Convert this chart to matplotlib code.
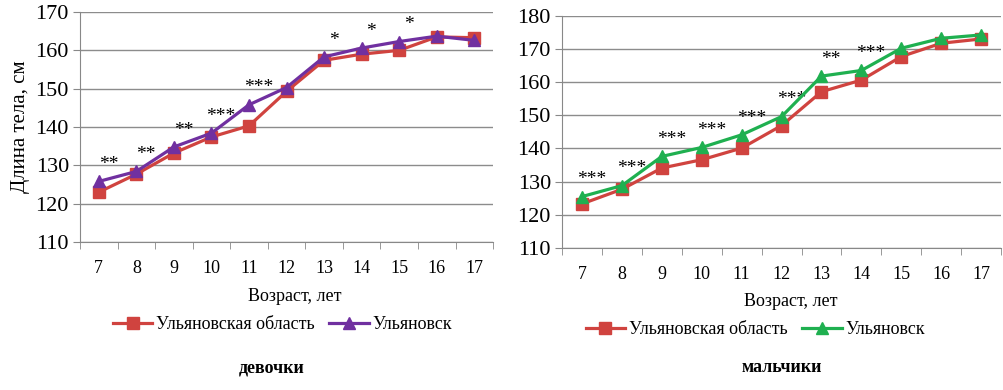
import matplotlib
matplotlib.use("Agg")
import matplotlib.pyplot as plt
from matplotlib.ticker import FixedLocator

plt.rcParams["font.family"] = ["Liberation Serif", "DejaVu Serif"]

# Data
ages = [7, 8, 9, 10, 11, 12, 13, 14, 15, 16, 17]

girls_region = [123.0, 127.7, 133.2, 137.4, 140.3, 149.3, 157.4, 159.0, 160.0, 163.5, 163.3]
girls_city = [125.8, 128.4, 134.8, 138.4, 145.8, 150.3, 158.3, 160.6, 162.3, 163.7, 162.6]
girls_sig = ["**", "**", "**", "***", "***", "", "*", "*", "*", "", ""]

boys_region = [123.3, 127.7, 134.1, 136.6, 140.1, 146.9, 157.1, 160.6, 167.7, 171.7, 173.0]
boys_city = [125.5, 128.8, 137.6, 140.3, 144.1, 149.6, 161.8, 163.5, 170.2, 173.2, 174.2]
boys_sig = ["***", "***", "***", "***", "***", "***", "**", "***", "", "", ""]

region_label = "Ульяновская область"
city_label = "Ульяновск"
red = "#D0433F"
purple = "#7030A0"
green = "#1FB050"

fig = plt.figure(figsize=(10.04, 3.90), dpi=100)
ax1 = fig.add_axes([0.0797, 0.3795, 0.4114, 0.5897])
ax2 = fig.add_axes([0.5598, 0.3641, 0.4373, 0.5956])


def draw(ax, region, city, sig, city_color, ylim, xlabel_y, leg_pos):
    x = list(range(len(ages)))
    ax.plot(x, region, color=red, lw=2.3, marker="s", ms=9, label=region_label, zorder=3)
    ax.plot(x, city, color=city_color, lw=2.3, marker="^", ms=9, label=city_label, zorder=4)
    for xi, yi, s in zip(x, city, sig):
        if s:
            ax.annotate(s, (xi, yi), xytext=(7, 6), textcoords="offset points",
                        ha="center", va="bottom", fontsize=14)
    ax.set_xlim(-0.5, len(ages) - 0.5)
    ax.set_ylim(*ylim)
    ax.set_yticks(range(ylim[0], ylim[1] + 1, 10))
    ax.set_xticks(x)
    ax.set_xticklabels([str(a) for a in ages], fontsize=13)
    ax.xaxis.set_minor_locator(FixedLocator([i - 0.5 for i in range(len(ages) + 1)]))
    ax.tick_params(axis="x", which="major", length=0, pad=13)
    ax.tick_params(axis="x", which="minor", length=5, color="#888888")
    ax.tick_params(axis="y", length=5, color="#888888", labelsize=16, pad=3)
    ax.grid(axis="y", color="#8c8c8c", lw=1)
    ax.set_axisbelow(True)
    for side in ("top", "right"):
        ax.spines[side].set_visible(False)
    for side in ("left", "bottom"):
        ax.spines[side].set_color("#888888")
    ax.set_xlabel("Возраст, лет", fontsize=13)
    ax.xaxis.set_label_coords(0.52, xlabel_y)
    ax.legend(loc="center", bbox_to_anchor=leg_pos, ncol=2, frameon=False, fontsize=13,
              handlelength=2.2, columnspacing=0.8, handletextpad=0.2)


draw(ax1, girls_region, girls_city, girls_sig, purple, (110, 170), -0.20, (0.49, -0.36))
draw(ax2, boys_region, boys_city, boys_sig, green, (110, 180), -0.195, (0.44, -0.353))

ax1.set_ylabel("Длина тела, см", fontsize=15, labelpad=4)

fig.text(0.271, 1 - 368 / 390, "девочки", ha="center", va="center", fontsize=13, fontweight="bold")
fig.text(0.779, 1 - 368 / 390, "мальчики", ha="center", va="center", fontsize=13, fontweight="bold")

fig.savefig("out.png", dpi=100)
